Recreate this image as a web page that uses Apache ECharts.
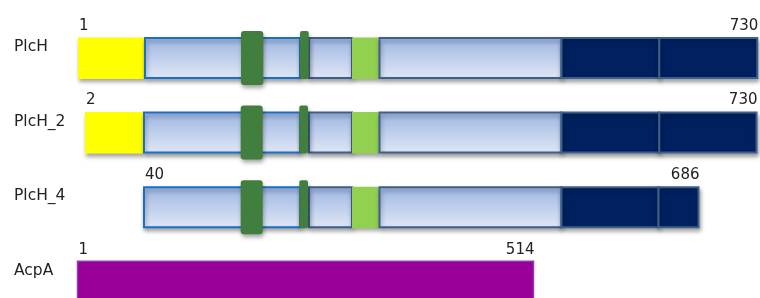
<!DOCTYPE html>
<html>
<head>
<meta charset="utf-8">
<script src="https://cdn.jsdelivr.net/npm/echarts@6/dist/echarts.min.js"></script>
<style>
html,body{margin:0;padding:0;background:#fff;}
#chart{width:760px;height:298px;}
</style>
</head>
<body>
<div id="chart"></div>
<script>
// Proteins (rows) and their residue-number annotations
const proteins = ['PlcH', 'PlcH_2', 'PlcH_4', 'AcpA'];
const startLabels = ['1', '2', '40', '1'];
const endLabels = ['730', '730', '686', '514'];

// Domain segments on the schematic scale: [type, start, end]
const plchDomains = [
  ['signal', 78, 144], ['core', 145, 300], ['coreSlate', 309, 352], ['motif', 352, 378.7],
  ['coreSlate', 379.5, 561.5], ['navy', 561.5, 659.3], ['navy', 659.3, 757.3],
  ['tmWide', 241, 263.3], ['tmNarrow', 300, 308.7]
];
const plch2Domains = [
  ['signal', 85, 143], ['core', 144, 300], ['coreSlate', 309, 352], ['motif', 352, 378.7],
  ['coreSlate', 379.5, 561.5], ['navy', 561.5, 659.3], ['navy', 659.3, 756.5],
  ['tmWide', 240.7, 262.7], ['tmNarrow', 299.3, 308]
];
const plch4Domains = [
  ['core', 144, 300], ['coreSlate', 309, 352], ['motif', 352, 378.7],
  ['coreSlate', 379.5, 561.5], ['navy', 561.5, 658.5], ['navy', 658.5, 698.5],
  ['tmWide', 240.7, 262.7], ['tmNarrow', 299.3, 308]
];
const acpaDomains = [
  ['acp', 77.5, 533.5]
];
const domainsByProtein = [plchDomains, plch2Domains, plch4Domains, acpaDomains];
const domainTypes = ['signal', 'core', 'coreSlate', 'motif', 'navy', 'tmWide', 'tmNarrow', 'acp'];

const blueGrad = new echarts.graphic.LinearGradient(0, 0, 0, 1, [
  { offset: 0, color: '#9db6e3' }, { offset: 1, color: '#e0e7f5' }
]);
const shadow = { shadowBlur: 4, shadowOffsetY: 3, shadowOffsetX: 1, shadowColor: 'rgba(0,0,0,0.35)' };
const typeStyles = {
  signal:    { dy: -20.5, h: 41.5, style: Object.assign({ fill: '#ffff00' }, shadow) },
  core:      { dy: -20,   h: 40,   style: Object.assign({ fill: blueGrad, stroke: '#1a6fc6', lineWidth: 2 }, shadow) },
  coreSlate: { dy: -20,   h: 40,   style: Object.assign({ fill: blueGrad, stroke: '#3d5f8c', lineWidth: 2 }, shadow) },
  motif:     { dy: -20.5, h: 41.5, style: Object.assign({ fill: '#92d050' }, shadow) },
  navy:      { dy: -20,   h: 40,   style: Object.assign({ fill: '#002060', stroke: '#3d5f8c', lineWidth: 2 }, shadow) },
  tmWide:    { dy: -27,   h: 54,   r: 3, style: Object.assign({ fill: '#427f3e' }, shadow) },
  tmNarrow:  { dy: -27,   h: 48,   r: 2, style: Object.assign({ fill: '#427f3e' }, shadow) },
  acp:       { dy: -20.5, h: 60,   style: { fill: '#990099', stroke: '#8b3fae', lineWidth: 1.5 } }
};

const domainData = [];
domainsByProtein.forEach((list, row) => {
  list.forEach(d => domainData.push([row, d[1], d[2], domainTypes.indexOf(d[0])]));
});
const labelData = [];
proteins.forEach((p, row) => {
  const list = domainsByProtein[row];
  const start = Math.min.apply(null, list.map(d => d[1]));
  const end = Math.max.apply(null, list.map(d => d[2]));
  labelData.push([row, 0, 2]);
  labelData.push([row, start, 0]);
  labelData.push([row, end, 1]);
});

const chart = echarts.init(document.getElementById('chart'), null, { renderer: 'canvas' });
chart.setOption({
  animation: false,
  backgroundColor: '#ffffff',
  grid: { left: 0, right: 0, top: 0, bottom: 0 },
  xAxis: { type: 'value', min: 0, max: 760, show: false },
  yAxis: { type: 'value', inverse: true, min: -0.7756, max: 3.2164, show: false },
  series: [
    {
      type: 'custom',
      data: domainData,
      encode: { x: [1, 2], y: 0 },
      renderItem: function (params, api) {
        const row = api.value(0);
        const a = api.coord([api.value(1), row]);
        const b = api.coord([api.value(2), row]);
        const st = typeStyles[domainTypes[api.value(3)]];
        return {
          type: 'rect',
          shape: { x: a[0], y: a[1] + st.dy, width: b[0] - a[0], height: st.h, r: st.r || 0 },
          style: st.style
        };
      }
    },
    {
      type: 'custom',
      data: labelData,
      encode: { x: 1, y: 0 },
      renderItem: function (params, api) {
        const row = api.value(0);
        const kind = api.value(2);
        const p = api.coord([api.value(1), row]);
        if (kind === 2) {
          return {
            type: 'text', x: p[0] + 14, y: p[1] - 11,
            style: {
              text: proteins[row], fill: '#222', font: '15.5px "DejaVu Sans"',
              textAlign: 'left', textVerticalAlign: 'middle'
            }
          };
        }
        return {
          type: 'text',
          x: p[0] + 1,
          y: p[1] - 32,
          style: {
            text: kind === 0 ? startLabels[row] : endLabels[row], fill: '#222', font: '15px "DejaVu Sans"',
            textAlign: kind === 0 ? 'left' : 'right', textVerticalAlign: 'middle'
          }
        };
      }
    }
  ]
});
</script>
</body>
</html>
